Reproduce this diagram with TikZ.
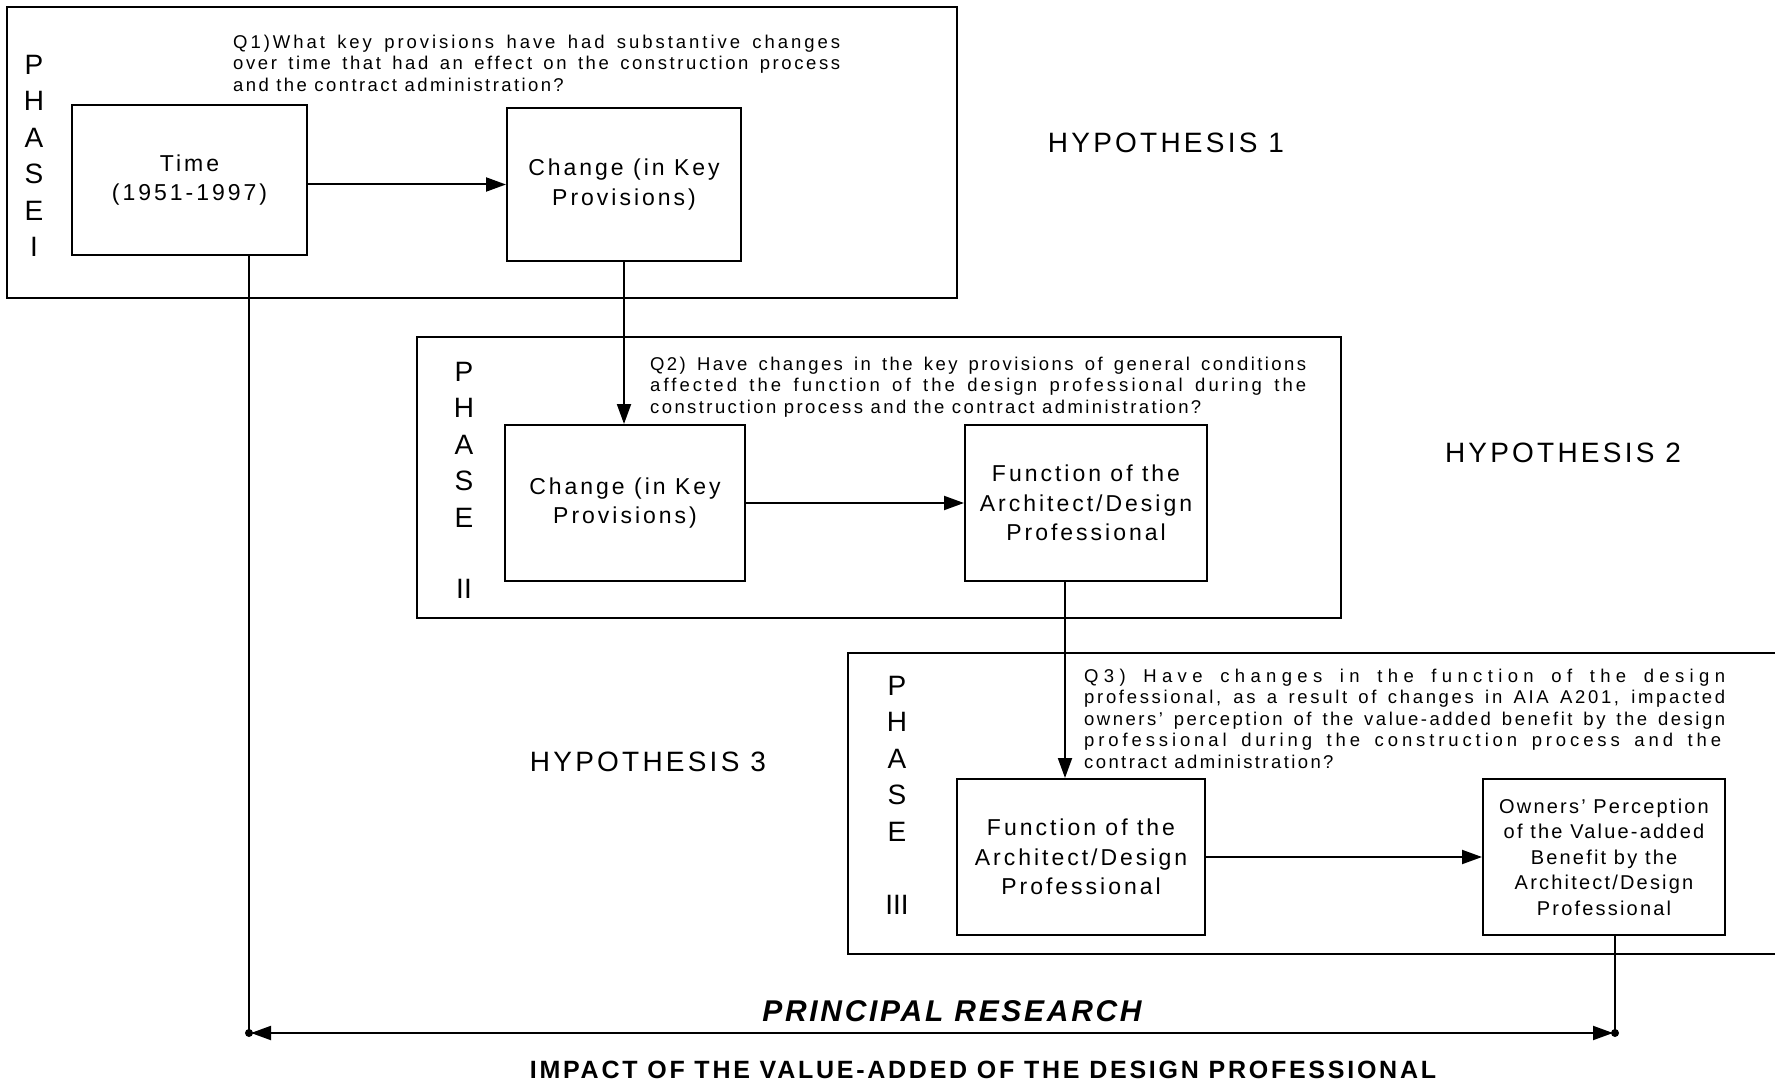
\documentclass[tikz,border=0pt]{standalone}
\usepackage{fontspec}
\setmainfont{Liberation Sans}
\usetikzlibrary{arrows.meta,calc}
\newcommand\dgBoxFont{\fontsize{23}{29.5}\selectfont\addfontfeatures{LetterSpace=13}}
\newcommand\dgQFont{\fontsize{18.5}{21.5}\selectfont\addfontfeatures{LetterSpace=13}}
\newcommand\dgHypFont{\fontsize{28}{32}\selectfont\addfontfeatures{LetterSpace=11.5}}
\newcommand\dgPhFont{\fontsize{28}{36.5}\selectfont}
\newcommand\dgOwnFont{\fontsize{20}{25.5}\selectfont\addfontfeatures{LetterSpace=11}}
\newcommand\dgPrFont{\fontsize{30}{34}\selectfont\bfseries\itshape\addfontfeatures{LetterSpace=9}}
\newcommand\dgImFont{\fontsize{25}{28}\selectfont\bfseries\addfontfeatures{LetterSpace=11}}
% justified line with its own letter spacing
\newcommand\dgLine[3]{{\addfontfeatures{LetterSpace=#1}\makebox[#2][s]{#3}}}
\begin{document}
\begin{tikzpicture}[x=1pt,y=-1pt,
  stepbox/.style={draw,line width=2pt,rectangle,inner sep=0pt,align=center,font=\dgBoxFont},
  phasebox/.style={draw,line width=2pt,rectangle,inner sep=0pt},
  qtext/.style={anchor=north west,inner sep=0pt,align=left,font=\dgQFont},
  hyp/.style={inner sep=0pt,font=\dgHypFont},
  phletters/.style={anchor=north,inner sep=0pt,align=center,font=\dgPhFont},
  arr/.style={line width=2pt,-{Triangle[length=20pt,width=14pt]}},
  arrtwo/.style={line width=2pt,{Triangle[length=20pt,width=14pt]}-{Triangle[length=20pt,width=14pt]}},
  conn/.style={line width=1.6pt}]
\useasboundingbox (0,0) rectangle (1775,1083);
\fill[white] (0,0) rectangle (1775,1083);

% phase frames
\node[phasebox,minimum width=950pt,minimum height=291pt] (phaseI) at (482,152.5) {};
\node[phasebox,minimum width=924pt,minimum height=281pt] (phaseII) at (879,477.5) {};
\draw[line width=2pt] (1776,653) -- (848,653) -- (848,954) -- (1776,954);

% phase letters
\node[phletters] (phlI) at (34,55) {P\\H\\A\\S\\E\\I};
\node[phletters] (phlII) at (464,362) {P\\H\\A\\S\\E\\[35pt]II};
\node[phletters] (phlIII) at (897,676) {P\\H\\A\\S\\E\\[37pt]III};

% boxes
\node[stepbox,minimum width=235pt,minimum height=150pt] (time) at (189.5,180) {Time\\(1951-1997)};
\node[stepbox,minimum width=234pt,minimum height=153pt] (change1) at (624,184.5) {Change (in Key\\Provisions)};
\node[stepbox,minimum width=240pt,minimum height=156pt] (change2) at (625,503) {Change (in Key\\Provisions)};
\node[stepbox,minimum width=242pt,minimum height=156pt] (func2) at (1086,503) {Function of the\\Architect/Design\\Professional};
\node[stepbox,minimum width=248pt,minimum height=156pt] (func3) at (1081,857) {Function of the\\Architect/Design\\Professional};
\node[stepbox,minimum width=242pt,minimum height=156pt,font=\dgOwnFont] (owners) at (1604,857) {Owners’ Perception\\of the Value-added\\Benefit by the\\Architect/Design\\Professional};

% questions
\node[qtext] (q1) at (233,34.5) {\dgLine{16}{607pt}{Q1)What key provisions have had substantive changes}\\
\dgLine{14}{607pt}{over time that had an effect on the construction process}\\
and the contract administration?};
\node[qtext] (q2) at (650,356.5) {\dgLine{13}{656pt}{Q2) Have changes in the key provisions of general conditions}\\
\dgLine{16.5}{656pt}{affected the function of the design professional during the}\\
construction process and the contract administration?};
\node[qtext] (q3) at (1084,668.5) {\dgLine{29}{641pt}{Q3) Have changes in the function of the design}\\
\dgLine{14.5}{641pt}{professional, as a result of changes in AIA A201, impacted}\\
\dgLine{13.5}{641pt}{owners' perception of the value-added benefit by the design}\\
\dgLine{21}{637pt}{professional during the construction process and the}\\
contract administration?};

% hypotheses
\node[hyp] (h1) at (1166,143) {HYPOTHESIS 1};
\node[hyp] (h2) at (1563,453) {HYPOTHESIS 2};
\node[hyp] (h3) at (648,762) {HYPOTHESIS 3};

% connectors
\draw[arr] (time.east |- change1.west) -- (change1.west);
\draw[arr] (change1.south) -- (change1.south |- change2.north);
\draw[arr] (change2.east) -- (func2.west);
\coordinate (fx) at (1065,0);
\draw[arr] (fx |- func2.south) -- (fx |- func3.north);
\draw[arr] (func3.east) -- (owners.west);

% principal research
\coordinate (tl) at (249,1033);
\coordinate (tr) at (1615,1033);
\draw[conn] (tl |- time.south) -- (tl);
\draw[conn] (tr |- owners.south) -- (tr);
\draw[arrtwo,shorten <=2pt,shorten >=2pt] (tl) -- (tr);
\fill (tl) circle (4pt);
\fill (tr) circle (4pt);
\node[inner sep=0pt,font=\dgPrFont] (pr) at (952,1011) {PRINCIPAL RESEARCH};
\node[inner sep=0pt,font=\dgImFont] (im) at (983,1070) {IMPACT OF THE VALUE-ADDED OF THE DESIGN PROFESSIONAL};
\end{tikzpicture}
\end{document}
